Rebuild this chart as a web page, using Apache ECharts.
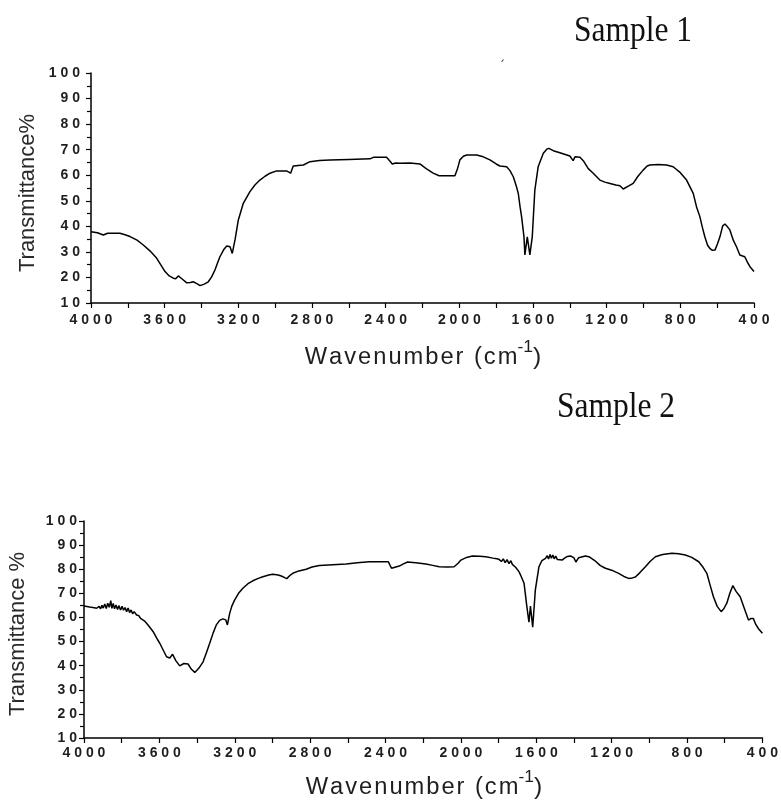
<!DOCTYPE html>
<html>
<head>
<meta charset="utf-8">
<script src="https://cdn.jsdelivr.net/npm/echarts@6/dist/echarts.min.js"></script>
<style>
html,body{margin:0;padding:0;background:#fff;}
#chart{width:781px;height:801px;}
</style>
</head>
<body>
<div id="chart"></div>
<script>
// ---- Data ----
const sample1Wavenumber = [4000,3965,3933,3910,3881,3843,3815,3788,3750,3716,3680,3643,3620,3598,3575,3553,3540,3526,3505,3480,3460,3445,3425,3408,3385,3363,3345,3327,3310,3300,3280,3263,3245,3233,3218,3200,3173,3137,3110,3083,3055,3028,2992,2960,2938,2916,2902,2847,2811,2760,2702,2600,2485,2467,2395,2375,2364,2345,2322,2268,2214,2180,2142,2110,2087,2024,2010,1997,1978,1960,1906,1870,1834,1800,1780,1743,1725,1707,1690,1680,1670,1662,1649,1644,1631,1617,1604,1590,1572,1544,1525,1514,1490,1454,1425,1400,1390,1382,1372,1363,1345,1327,1300,1273,1237,1210,1182,1150,1128,1110,1101,1080,1056,1030,1002,980,965,920,875,839,800,766,730,712,694,680,667,652,640,626,612,598,585,570,558,545,531,512,495,477,462,450,436,422,400];
const sample1Transmittance = [37.9,37.5,36.6,37.3,37.3,37.3,36.7,36.0,34.6,32.7,30.4,27.5,24.8,22.3,20.6,19.7,19.5,20.6,19.4,17.9,18.0,18.3,17.6,16.8,17.4,18.3,20.2,22.9,26.2,28.1,30.8,32.3,32.0,29.4,34.7,42.5,49.0,53.6,56.2,58.1,59.6,60.8,61.7,61.7,61.7,60.8,63.6,64.0,65.3,65.8,66.0,66.2,66.4,67.0,67.0,65.4,64.4,64.8,64.7,64.8,64.4,62.6,60.8,59.8,59.8,59.8,62.5,66.0,67.4,67.9,67.9,67.2,66.0,64.4,63.6,63.3,61.8,59.4,55.6,52.9,47.5,43.8,35.9,28.8,35.9,28.8,35.9,54.2,63.3,68.6,70.2,70.5,69.6,68.8,68.1,67.5,66.8,65.7,67.2,67.5,67.0,65.7,62.6,60.8,58.1,57.3,56.8,56.2,55.9,54.6,54.2,55.8,56.8,59.6,62.0,63.6,64.0,64.2,64.0,63.3,61.0,58.1,52.9,47.6,43.8,39.5,35.9,32.6,31.4,30.6,30.7,33.2,35.9,40.2,40.9,39.9,38.6,34.5,32.0,28.8,28.4,28.1,26.0,24.2,22.3];

const sample2Wavenumber = [4000,3970,3945,3933,3920,3912,3905,3898,3890,3882,3874,3866,3858,3852,3845,3838,3830,3822,3815,3806,3798,3790,3782,3774,3766,3758,3750,3742,3734,3721,3710,3700,3690,3680,3668,3650,3633,3615,3598,3580,3562,3545,3530,3512,3492,3470,3448,3430,3412,3390,3368,3350,3333,3315,3298,3280,3263,3248,3239,3227,3215,3201,3180,3157,3130,3104,3075,3051,3020,2998,2970,2953,2935,2924,2905,2892,2860,2821,2790,2751,2680,2609,2550,2486,2430,2385,2375,2368,2350,2327,2305,2283,2240,2186,2150,2115,2070,2036,2015,2000,1970,1939,1900,1868,1830,1810,1798,1785,1775,1765,1755,1745,1735,1727,1718,1710,1700,1692,1680,1665,1650,1639,1631,1619,1605,1586,1570,1551,1542,1535,1527,1520,1512,1505,1497,1488,1478,1463,1450,1435,1418,1400,1390,1383,1375,1365,1340,1321,1290,1260,1233,1200,1163,1135,1110,1090,1074,1050,1021,995,968,930,880,845,809,775,738,715,695,678,660,640,619,605,589,573,557,540,518,495,474,460,448,436,420,400];
const sample2Transmittance = [64.7,64.3,64.0,63.8,64.6,63.6,65.0,63.9,65.6,63.7,65.9,64.2,67.0,63.8,65.8,63.6,65.2,63.3,64.9,63.1,64.6,63.0,64.1,62.4,63.9,62.0,63.1,61.5,62.4,61.0,60.8,59.6,60.2,58.6,57.6,55.8,54.1,51.5,49.3,46.5,43.7,43.2,44.7,42.0,39.9,40.9,40.7,38.5,37.2,39.0,41.6,45.5,49.3,53.5,56.9,58.8,59.4,59.0,56.9,61.7,64.8,67.2,70.0,72.1,74.0,75.2,76.2,76.9,77.6,77.9,77.6,77.2,76.5,76.1,77.6,78.3,79.3,80.0,80.9,81.5,81.9,82.2,82.7,83.1,83.1,83.1,81.5,80.4,80.8,81.3,82.2,83.0,82.7,82.2,81.6,81.0,80.9,81.0,82.5,83.8,84.9,85.5,85.4,85.2,84.6,84.3,84.1,83.2,84.3,82.7,84.0,82.3,83.5,82.0,82.8,80.8,80.0,79.0,77.0,74.2,64.5,58.0,64.7,56.0,71.4,81.0,83.6,84.5,85.6,84.2,86.1,84.6,85.9,84.3,85.4,84.0,84.5,83.8,84.6,85.3,85.5,84.7,83.0,82.5,84.8,85.5,85.5,85.2,83.6,81.5,80.4,79.6,78.3,77.0,76.2,76.4,76.8,78.6,81.0,83.3,85.2,86.1,86.6,86.4,85.9,84.9,83.1,80.8,78.3,73.5,68.6,64.6,62.4,63.6,65.9,70.0,73.2,70.8,68.6,63.5,58.9,59.6,59.6,57.2,55.2,53.4];

const xTicks = [4000,3600,3200,2800,2400,2000,1600,1200,800,400];
const yTicks = [10,20,30,40,50,60,70,80,90,100];
const titles = ['Sample 1', 'Sample 2'];
const yTitles = ['Transmittance%', 'Transmittance %'];
const xTitle = 'Wavenumber (cm';
const xTitleSup = '-1';

// ---- Chart ----
const chart = echarts.init(document.getElementById('chart'), null, {renderer: 'canvas'});
const spaced = v => String(v).split('').join(' ');
const labelFont = {fontFamily: 'Liberation Sans, Arial, sans-serif', fontWeight: 'bold', fontSize: 14, color: '#1e1e1e'};
const axisLineStyle = {color: '#000', width: 1.5};

const grids = [
  {left: 91, top: 73, width: 663, height: 230},
  {left: 84, top: 521, width: 680, height: 217}
];

function zip(a, b) { return a.map((v, i) => [v, b[i]]); }

const xAxes = grids.map((g, i) => ({
  gridIndex: i, type: 'value', inverse: true,
  min: xTicks[xTicks.length - 1], max: xTicks[0], interval: 400,
  axisLine: {show: true, onZero: false, lineStyle: axisLineStyle},
  axisTick: {show: true, length: 5, lineStyle: {color: '#000', width: 1.2}},
  minorTick: {show: true, splitNumber: 2, length: 5, lineStyle: {color: '#000', width: 1.2}},
  splitLine: {show: false}, minorSplitLine: {show: false},
  axisLabel: Object.assign({margin: i === 0 ? 10 : 8, formatter: spaced}, labelFont)
}));
const yAxes = grids.map((g, i) => ({
  gridIndex: i, type: 'value',
  min: yTicks[0], max: yTicks[yTicks.length - 1], interval: 10,
  axisLine: {show: true, onZero: false, lineStyle: axisLineStyle},
  axisTick: {show: true, length: 5, lineStyle: {color: '#000', width: 1.2}},
  minorTick: {show: true, splitNumber: 2, length: 4, lineStyle: {color: '#000', width: 1.2}},
  splitLine: {show: false}, minorSplitLine: {show: false},
  axisLabel: Object.assign({margin: i === 0 ? 11 : 7, formatter: spaced}, labelFont)
}));

const lineSeries = [zip(sample1Wavenumber, sample1Transmittance), zip(sample2Wavenumber, sample2Transmittance)].map((d, i) => ({
  type: 'line', xAxisIndex: i, yAxisIndex: i, data: d,
  showSymbol: false, symbol: 'none', smooth: false,
  lineStyle: {color: '#000', width: 1.5}, silent: true
}));

function xTitleEl(cx, cy) {
  const word = xTitle.split('').join('\u200A');
  return {
    type: 'text', x: cx, y: cy, scaleX: 1.03,
    style: {
      text: '{m|' + word + '}{s|' + xTitleSup + '}{p|)}',
      align: 'center', verticalAlign: 'middle',
      rich: {
        m: {fontFamily: 'Liberation Sans, Arial, sans-serif', fontSize: 23, fill: '#1e1e1e', verticalAlign: 'bottom', lineHeight: 30},
        s: {fontFamily: 'Liberation Sans, Arial, sans-serif', fontSize: 17, fill: '#1e1e1e', verticalAlign: 'top', lineHeight: 30},
        p: {fontFamily: 'Liberation Sans, Arial, sans-serif', fontSize: 24, fill: '#1e1e1e', verticalAlign: 'bottom', lineHeight: 30}
      }
    }
  };
}

const graphics = [
  {type: 'text', x: 633, y: 32, scaleX: 0.9, style: {text: titles[0], font: '35px "Liberation Serif", "Times New Roman", serif', fill: '#111', align: 'center', verticalAlign: 'middle'}},
  {type: 'text', x: 616, y: 408, scaleX: 0.9, style: {text: titles[1], font: '35px "Liberation Serif", "Times New Roman", serif', fill: '#111', align: 'center', verticalAlign: 'middle'}},
  {type: 'text', x: 28, y: 193, rotation: Math.PI / 2, style: {text: yTitles[0], font: '22px "Liberation Sans", Arial, sans-serif', fill: '#2a2a2a', align: 'center', verticalAlign: 'middle'}},
  {type: 'text', x: 18, y: 634, rotation: Math.PI / 2, style: {text: yTitles[1], font: '22px "Liberation Sans", Arial, sans-serif', fill: '#2a2a2a', align: 'center', verticalAlign: 'middle'}},
  xTitleEl(423, 354),
  xTitleEl(424, 784),
  {type: 'text', x: 502, y: 56, style: {text: '\u02CF', font: '12px "DejaVu Sans", sans-serif', fill: '#333', align: 'center', verticalAlign: 'middle'}}
];

chart.setOption({
  animation: false,
  backgroundColor: '#fff',
  grid: grids,
  xAxis: xAxes,
  yAxis: yAxes,
  series: lineSeries,
  graphic: graphics
});
</script>
</body>
</html>
